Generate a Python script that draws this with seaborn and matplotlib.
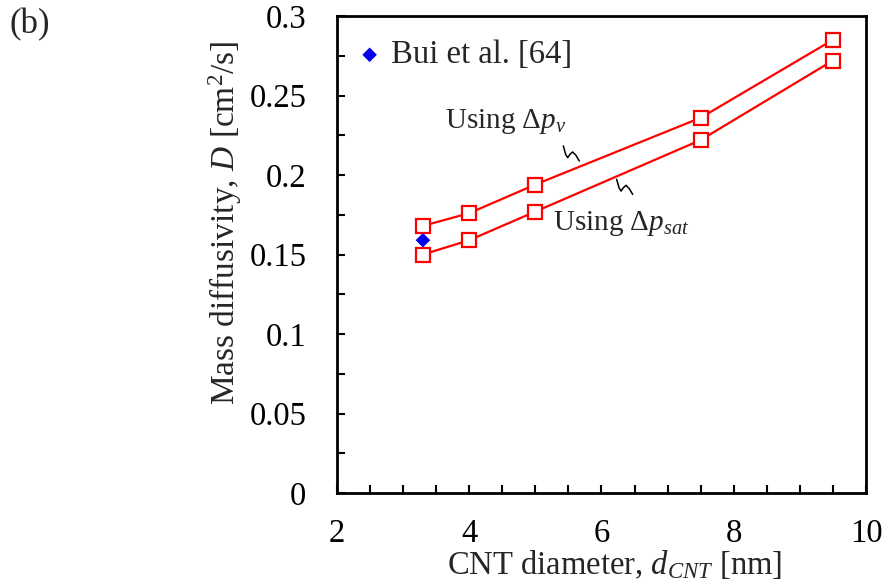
import numpy as np
import pandas as pd
import matplotlib
matplotlib.use("Agg")
import matplotlib.pyplot as plt
from matplotlib.ticker import MultipleLocator
from matplotlib.lines import Line2D
import seaborn as sns

# CNT diameter [nm]
diameter = [3.3, 4.0, 5.0, 7.5, 9.5]
# Mass diffusivity [cm^2/s]
D_pv = [0.168, 0.176, 0.194, 0.236, 0.285]
D_psat = [0.150, 0.159, 0.177, 0.222, 0.272]
# Reference data
bui_x = [3.3]
bui_y = [0.159]

sns.set_style("ticks")
plt.rcParams["font.family"] = ["Liberation Serif", "DejaVu Serif"]
plt.rcParams["mathtext.fontset"] = "custom"
plt.rcParams["mathtext.rm"] = "Liberation Serif"
plt.rcParams["mathtext.it"] = "Liberation Serif:italic"
plt.rcParams["mathtext.bf"] = "Liberation Serif:bold"

FS_TICK = 23.5
FS_LABEL = 23.5
FS_NOTE = 21

fig = plt.figure(figsize=(8.84, 5.82), dpi=100)
ax = fig.add_axes([0.3812, 0.1529, 0.5984, 0.8196])

df = pd.concat([
    pd.DataFrame({"d": diameter, "D": D_pv, "case": "pv"}),
    pd.DataFrame({"d": diameter, "D": D_psat, "case": "psat"}),
])
sns.lineplot(data=df, x="d", y="D", units="case", estimator=None, ax=ax,
             color="#ff0000", linewidth=1.6, marker="s", markersize=10,
             markerfacecolor="white", markeredgecolor="#ff0000",
             markeredgewidth=1.6, legend=False, zorder=3)
sns.scatterplot(x=bui_x, y=bui_y, ax=ax, marker="D", s=55, color="#0000ee",
                edgecolor="none", zorder=4, label="Bui et al. [64]")

ax.set_xlim(2, 10)
ax.set_ylim(0, 0.3)
ax.xaxis.set_major_locator(MultipleLocator(2))
ax.xaxis.set_minor_locator(MultipleLocator(0.5))
ax.set_yticks([0, 0.05, 0.1, 0.15, 0.2, 0.25, 0.3])
ax.set_yticklabels(["0", "0.05", "0.1", "0.15", "0.2", "0.25", "0.3"])
ax.yaxis.set_minor_locator(MultipleLocator(0.025))
ax.tick_params(which="both", direction="in", length=6, width=1.5,
               labelsize=FS_TICK, top=False, right=False, colors="black")
ax.tick_params(axis="y", which="major", pad=22)
ax.tick_params(axis="x", which="major", pad=18)
for s in ax.spines.values():
    s.set_linewidth(2.0)
    s.set_color("black")

ax.set_xlabel(r"CNT diameter, $d_{CNT}$ [nm]", fontsize=FS_LABEL)
ax.set_ylabel(r"Mass diffusivity, $D$ [cm$^2$/s]", fontsize=24)
ax.xaxis.label.set_va("center")
ax.yaxis.label.set_va("center")
ax.xaxis.set_label_coords(0.524, -0.149)
ax.yaxis.set_label_coords(-0.212, 0.566)

leg = ax.legend(loc="center left", frameon=False, fontsize=FS_TICK,
                handletextpad=0.05, borderaxespad=0.0, handlelength=1.2,
                bbox_to_anchor=(0.0, 0.918))

ax.text(3.63, 0.2294, r"Using $\Delta p_v$", fontsize=FS_NOTE, ha="left", va="baseline")
ax.text(5.27, 0.1657, r"Using $\Delta p_{sat}$", fontsize=FS_NOTE, ha="left", va="baseline")

# small wavy leaders tying each label to its curve
sq_dx = [0.0, 0.035, 0.066, 0.101, 0.141, 0.191, 0.242]
sq_dy = [0.0, -0.0053, -0.0074, -0.0053, -0.0038, -0.0059, -0.0095]
for x0, y0 in [(5.423, 0.2183), (6.230, 0.1973)]:
    ax.add_line(Line2D([x0 + d for d in sq_dx], [y0 + d for d in sq_dy],
                       color="black", lw=1.1))

fig.text(0.011, 0.957, "(b)", fontsize=25, ha="left", va="center")

fig.savefig("out.png", dpi=100)
